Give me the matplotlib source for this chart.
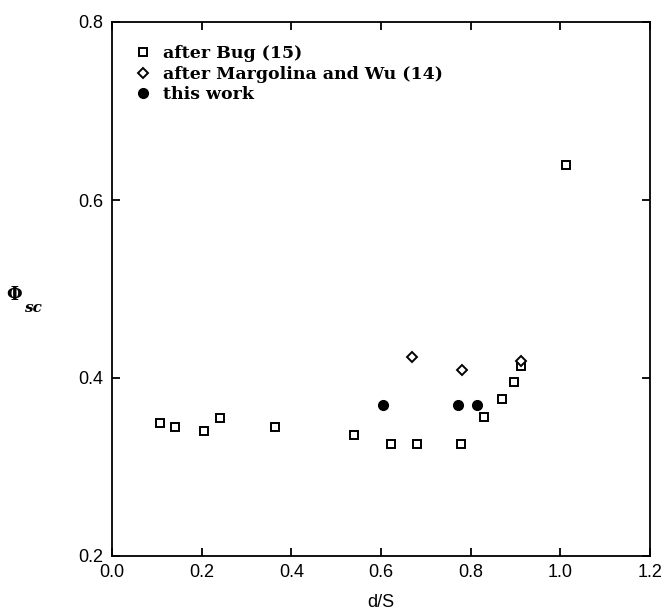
import matplotlib
matplotlib.use("Agg")
import matplotlib.pyplot as plt

# Data
bug_x = [0.107, 0.140, 0.206, 0.240, 0.364, 0.539, 0.622, 0.680, 0.778, 0.829, 0.870, 0.896, 0.913, 1.012]
bug_y = [0.350, 0.345, 0.340, 0.355, 0.345, 0.336, 0.326, 0.326, 0.326, 0.356, 0.376, 0.395, 0.414, 0.639]
mw_x = [0.670, 0.780, 0.913]
mw_y = [0.424, 0.409, 0.419]
tw_x = [0.605, 0.772, 0.815]
tw_y = [0.370, 0.370, 0.370]

labels = ["after Bug (15)", "after Margolina and Wu (14)", "this work"]
xticks = [0.0, 0.2, 0.4, 0.6, 0.8, 1.0, 1.2]
yticks = [0.2, 0.4, 0.6, 0.8]

fig = plt.figure(figsize=(6.63, 6.16), dpi=100)
ax = fig.add_axes([112/663, 1-556/616, (650-112)/663, (556-22)/616])

ax.plot(bug_x, bug_y, linestyle='none', marker='s', ms=5.5, mfc='white', mec='black', mew=1.4, label=labels[0])
ax.plot(mw_x, mw_y, linestyle='none', marker='D', ms=5, mfc='white', mec='black', mew=1.4, label=labels[1])
ax.plot(tw_x, tw_y, linestyle='none', marker='o', ms=7, mfc='black', mec='black', label=labels[2])

ax.set_xlim(0.0, 1.2)
ax.set_ylim(0.2, 0.8)
ax.set_xticks(xticks)
ax.set_yticks(yticks)
ax.set_xticklabels([f"{v:.1f}" for v in xticks], family='Liberation Sans', fontsize=13)
ax.set_yticklabels([f"{v:.1f}" for v in yticks], family='Liberation Sans', fontsize=13)
ax.tick_params(direction='in', length=6, width=1.3, top=True, right=True, pad=6)
for s in ax.spines.values():
    s.set_linewidth(1.3)

ax.set_xlabel("d/S", family='Liberation Sans', fontsize=13, labelpad=9)

fig.text(14/663, 1-295/616, "\u03a6", family='DejaVu Serif', fontweight='bold', fontsize=13, ha='center', va='center')
fig.text(24/663, 1-308/616, "sc", family='DejaVu Serif', fontweight='bold', style='italic', fontsize=11, ha='left', va='center')

leg = ax.legend(loc='upper left', bbox_to_anchor=(0.022, 0.98), frameon=False,
                handlelength=0.8, handletextpad=0.75, labelspacing=0.22,
                prop={'family': 'DejaVu Serif', 'weight': 'bold', 'size': 12.5}, borderaxespad=0.3)

fig.savefig("out.png", dpi=100)
